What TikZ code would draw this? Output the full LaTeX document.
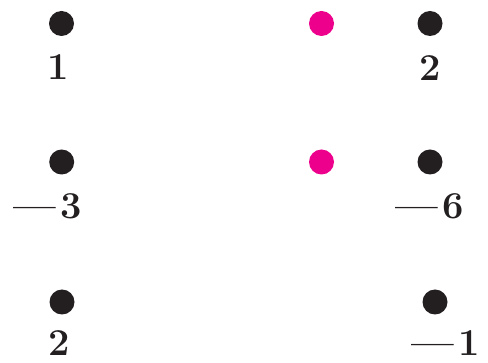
\documentclass[tikz,border=0pt]{standalone}
\definecolor{dotblack}{HTML}{231F20}
\definecolor{dotpink}{HTML}{EC008C}
\tikzset{
  dot/.style={circle,fill=#1,minimum size=25pt,inner sep=0pt},
  dot/.default=dotblack,
  lbl/.style={inner sep=0pt,text=dotblack,font=\fontsize{38}{40}\selectfont\bfseries}
}
\begin{document}
\begin{tikzpicture}[x=1pt,y=-1pt]
\useasboundingbox (0,0) rectangle (488,363);
% row 1
\node[dot] (d11) at (61.5,23.5) {};
\node[dot=dotpink] (p1) at (321.5,23.5) {};
\node[dot] (d12) at (430,23.5) {};
\node[lbl] (l11) at (58.5,67) {1};
\node[lbl] (l12) at (430.5,68.5) {2};
% row 2
\node[dot] (d21) at (61.7,162) {};
\node[dot=dotpink] (p2) at (321.5,162) {};
\node[dot] (d22) at (430,162) {};
\node[lbl] (l21) at (48,206) {---\kern4pt3};
\node[lbl] (l22) at (430,206) {---\kern4pt6};
% row 3
\node[dot] (d31) at (62,302) {};
\node[dot] (d32) at (435,302) {};
\node[lbl] (l31) at (59,343.5) {2};
\node[lbl] (l32) at (446,343.5) {---\kern4pt1};
\end{tikzpicture}
\end{document}
